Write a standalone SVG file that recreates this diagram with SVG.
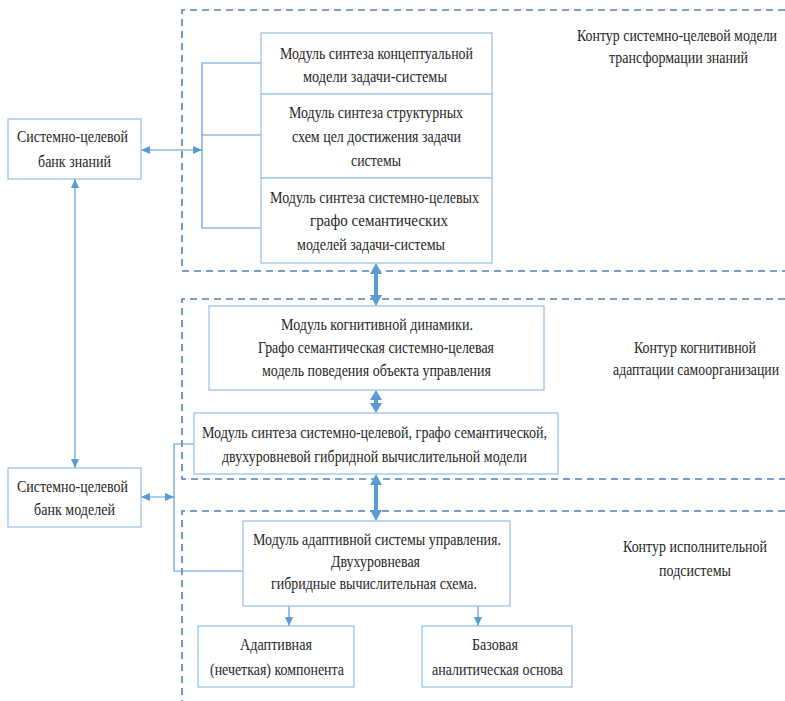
<svg xmlns="http://www.w3.org/2000/svg" width="785" height="701" viewBox="0 0 785 701">
<style>
.box{fill:#fff;stroke:#9dc3e6;stroke-width:1.3}
.t{font-family:'Liberation Serif','DejaVu Serif',serif;font-size:17px;fill:#262626}
.m{text-anchor:middle}
.dash{fill:none;stroke:#4f81b9;stroke-width:1.6;stroke-dasharray:7 5}
.c{fill:none;stroke:#5b9bd5;stroke-width:1.2}
.thick{fill:#5b9bd5}
</style>
<defs>
<marker id="ah" markerUnits="userSpaceOnUse" markerWidth="9" markerHeight="8" refX="9" refY="4" orient="auto-start-reverse">
<path d="M0,0 L9,4 L0,8 z" fill="#5b9bd5"/>
</marker>
</defs>
<g id="contours">
<path class="dash" d="M785,10 H182 V271 H785"/>
<path class="dash" d="M785,299 H182 V479 H785"/>
<path class="dash" d="M785,511 H182 V701"/>
</g>
<g id="contour-labels">
<text class="t m" transform="translate(677,41) scale(0.82,1)" x="0" y="0" textLength="244" lengthAdjust="spacingAndGlyphs">Контур системно-целевой модели</text>
<text class="t m" transform="translate(678.5,63) scale(0.82,1)" x="0" y="0" textLength="169.5" lengthAdjust="spacingAndGlyphs">трансформации знаний</text>
<text class="t m" transform="translate(695,353) scale(0.82,1)" x="0" y="0" textLength="148.8" lengthAdjust="spacingAndGlyphs">Контур когнитивной</text>
<text class="t m" transform="translate(696,375) scale(0.82,1)" x="0" y="0" textLength="202.4" lengthAdjust="spacingAndGlyphs">адаптации самоорганизации</text>
<text class="t m" transform="translate(695,552) scale(0.82,1)" x="0" y="0" textLength="175.6" lengthAdjust="spacingAndGlyphs">Контур исполнительной</text>
<text class="t m" transform="translate(695,576) scale(0.82,1)" x="0" y="0" textLength="87.8" lengthAdjust="spacingAndGlyphs">подсистемы</text>
</g>
<g id="connectors">
<path class="c" d="M261,63 H202 V228 H265 M202,135 H261"/>
<line class="c" x1="141" y1="150" x2="202" y2="150" marker-start="url(#ah)" marker-end="url(#ah)"/>
<line class="c" x1="75" y1="179" x2="75" y2="468" marker-start="url(#ah)" marker-end="url(#ah)"/>
<line class="c" x1="141" y1="497" x2="174" y2="497" marker-start="url(#ah)" marker-end="url(#ah)"/>
<path class="c" d="M194,444 H174 V571 H243"/>
<line class="c" x1="289" y1="606" x2="289" y2="626" marker-end="url(#ah)"/>
<line class="c" x1="478" y1="606" x2="478" y2="626" marker-end="url(#ah)"/>
<polygon class="thick" points="376,263 382,274 378,274 378,295 382,295 376,306 370,295 374,295 374,274 370,274"/>
<polygon class="thick" points="376,390 382,400 378,400 378,403 382,403 376,413 370,403 374,403 374,400 370,400"/>
<polygon class="thick" points="376,474 382,485 378,485 378,510 382,510 376,521 370,510 374,510 374,485 370,485"/>
</g>
<g id="bank-knowledge">
<rect class="box" x="8" y="119" width="133" height="60"/>
<text class="t" x="17" y="142" textLength="111" lengthAdjust="spacingAndGlyphs">Системно-целевой</text>
<text class="t" x="38" y="167" textLength="73" lengthAdjust="spacingAndGlyphs">банк знаний</text>
</g>
<g id="bank-models">
<rect class="box" x="8" y="468" width="133" height="59"/>
<text class="t" x="17" y="492" textLength="111" lengthAdjust="spacingAndGlyphs">Системно-целевой</text>
<text class="t" x="34" y="515" textLength="81" lengthAdjust="spacingAndGlyphs">банк моделей</text>
</g>
<g id="module-conceptual">
<rect class="box" x="261" y="33" width="231" height="61"/>
<text class="t" x="280" y="59" textLength="193" lengthAdjust="spacingAndGlyphs">Модуль синтеза концептуальной</text>
<text class="t" x="303" y="82" textLength="144" lengthAdjust="spacingAndGlyphs">модели задачи-системы</text>
</g>
<g id="module-structural">
<rect class="box" x="261" y="94" width="231" height="84"/>
<text class="t" x="289" y="118" textLength="174" lengthAdjust="spacingAndGlyphs">Модуль синтеза структурных</text>
<text class="t" x="292" y="142" textLength="169" lengthAdjust="spacingAndGlyphs">схем цел достижения задачи</text>
<text class="t" x="351" y="166" textLength="50" lengthAdjust="spacingAndGlyphs">системы</text>
</g>
<g id="module-graphsemantic">
<rect class="box" x="261" y="178" width="231" height="85"/>
<text class="t" x="270" y="203" textLength="209" lengthAdjust="spacingAndGlyphs">Модуль синтеза системно-целевых</text>
<text class="t" x="310" y="226" textLength="138" lengthAdjust="spacingAndGlyphs">графо семантических</text>
<text class="t" x="297" y="250" textLength="148" lengthAdjust="spacingAndGlyphs">моделей задачи-системы</text>
</g>
<g id="module-cognitive">
<rect class="box" x="209" y="306" width="335" height="84"/>
<text class="t" x="281" y="330" textLength="192" lengthAdjust="spacingAndGlyphs">Модуль когнитивной динамики.</text>
<text class="t" x="258" y="353" textLength="236" lengthAdjust="spacingAndGlyphs">Графо семантическая системно-целевая</text>
<text class="t" x="262" y="376" textLength="229" lengthAdjust="spacingAndGlyphs">модель поведения объекта управления</text>
</g>
<g id="module-hybrid-model">
<rect class="box" x="194" y="413" width="364" height="61"/>
<text class="t" x="202" y="438" textLength="345" lengthAdjust="spacingAndGlyphs">Модуль синтеза системно-целевой, графо семантической,</text>
<text class="t" x="222" y="462" textLength="305" lengthAdjust="spacingAndGlyphs">двухуровневой гибридной вычислительной модели</text>
</g>
<g id="module-adaptive-control">
<rect class="box" x="243" y="521" width="267" height="85"/>
<text class="t" x="253" y="545" textLength="248" lengthAdjust="spacingAndGlyphs">Модуль адаптивной системы управления.</text>
<text class="t" x="331" y="567" textLength="89" lengthAdjust="spacingAndGlyphs">Двухуровневая</text>
<text class="t" x="271" y="589" textLength="206" lengthAdjust="spacingAndGlyphs">гибридные вычислительная схема.</text>
</g>
<g id="adaptive-component">
<rect class="box" x="198" y="626" width="156" height="61"/>
<text class="t" x="240" y="650" textLength="72" lengthAdjust="spacingAndGlyphs">Адаптивная</text>
<text class="t" x="210" y="675" textLength="134" lengthAdjust="spacingAndGlyphs">(нечеткая) компонента</text>
</g>
<g id="base-analytic">
<rect class="box" x="422" y="626" width="150" height="61"/>
<text class="t" x="472" y="650" textLength="46" lengthAdjust="spacingAndGlyphs">Базовая</text>
<text class="t" x="432" y="675" textLength="131" lengthAdjust="spacingAndGlyphs">аналитическая основа</text>
</g>
</svg>
